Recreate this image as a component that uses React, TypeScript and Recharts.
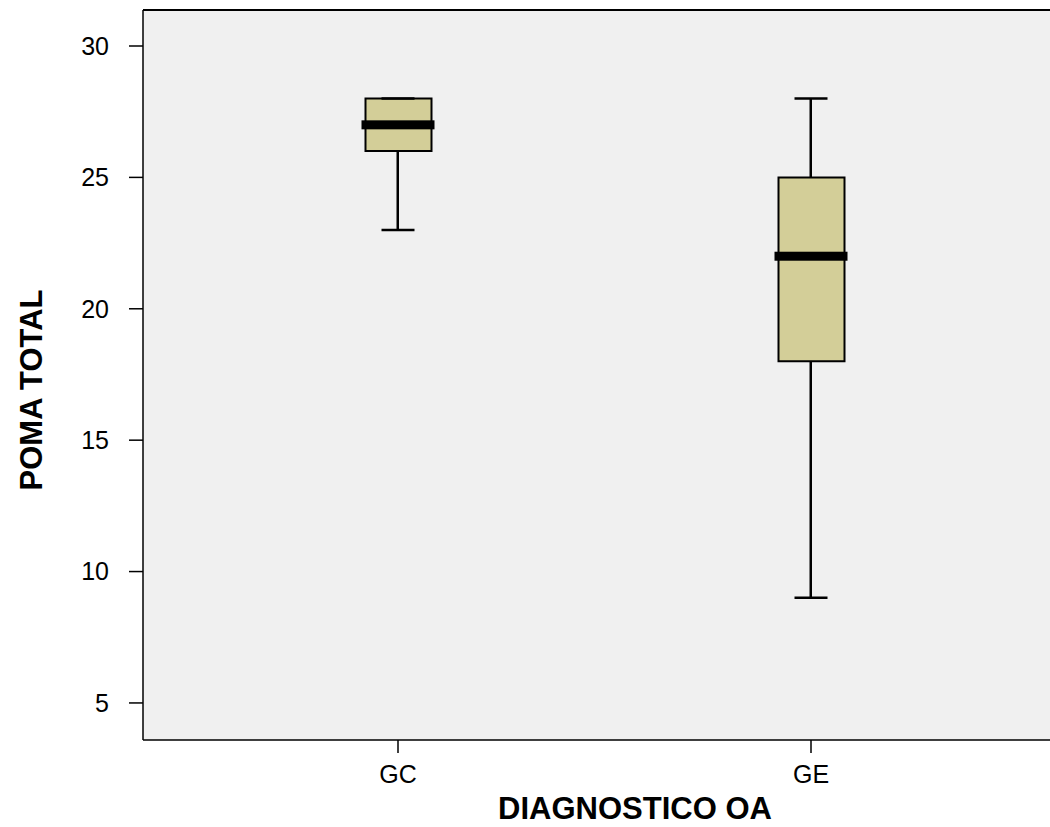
import {
  ComposedChart,
  Bar,
  Scatter,
  XAxis,
  YAxis,
  CartesianGrid,
  ReferenceLine,
  Label,
} from 'recharts';

// boxplot stats
const categories = ['GC', 'GE'];
const mins = [23, 9];
const q1s = [26, 18];
const medians = [27, 22];
const q3s = [28, 25];
const maxs = [28, 28];

const yTicks = [5, 10, 15, 20, 25, 30];
const yDomain = [3.59, 31.37];

const data = categories.map((name, i) => ({
  name,
  whisker: [mins[i], maxs[i]],
  box: [q1s[i], q3s[i]],
  median: medians[i],
  min: mins[i],
  max: maxs[i],
}));

const font = '"Liberation Sans", Arial, sans-serif';
const boxFill = '#d3ce98';
const plotBg = '#f0f0f0';
const xPad = { left: 48.5, right: 32.5 };

const MedianShape = (props: any) => {
  const { cx, cy } = props;
  if (cx == null || cy == null) return null;
  return <rect x={cx - 36.5} y={cy - 4.5} width={73} height={9} fill="#000" />;
};

const CapShape = (props: any) => {
  const { cx, cy } = props;
  if (cx == null || cy == null) return null;
  return <line x1={cx - 16.5} x2={cx + 16.5} y1={cy} y2={cy} stroke="#000" strokeWidth={2.5} />;
};

export default function App() {
  return (
    <div style={{ position: 'absolute', left: 0, top: 0, fontFamily: font }}>
      <ComposedChart
        width={1050}
        height={827}
        data={data}
        margin={{ top: 10, right: 0, bottom: 0, left: 0 }}
      >
        <CartesianGrid fill={plotBg} horizontal={false} vertical={false} />
        <XAxis
          dataKey="name"
          xAxisId="main"
          padding={xPad}
          height={87}
          tickSize={13}
          tickMargin={12}
          axisLine={{ stroke: '#000', strokeWidth: 1.5 }}
          tickLine={{ stroke: '#000', strokeWidth: 1.5 }}
          tick={{ fill: '#000', fontSize: 25, fontFamily: font }}
        >
          <Label
            value="DIAGNOSTICO OA"
            position="center"
            dx={38.5}
            dy={24.5}
            style={{ fontSize: 31, fontWeight: 'bold', fill: '#000', fontFamily: font }}
          />
        </XAxis>
        <XAxis dataKey="name" xAxisId="whisker" orientation="top" height={0} padding={xPad} hide />
        <XAxis dataKey="name" xAxisId="box" orientation="top" height={0} padding={xPad} hide />
        <YAxis
          type="number"
          domain={yDomain}
          allowDataOverflow
          ticks={yTicks}
          width={143}
          tickSize={14}
          tickMargin={20}
          axisLine={{ stroke: '#000', strokeWidth: 1.5 }}
          tickLine={{ stroke: '#000', strokeWidth: 1.5 }}
          tick={{ fill: '#000', fontSize: 25, fontFamily: font }}
        >
          <Label
            value="POMA TOTAL"
            angle={-90}
            position="center"
            dx={-41}
            dy={15}
            style={{ fontSize: 31, fontWeight: 'bold', fill: '#000', fontFamily: font, textAnchor: 'middle' }}
          />
        </YAxis>
        <ReferenceLine xAxisId="main" y={yDomain[1]} stroke="#000" strokeWidth={2} ifOverflow="visible" />
        <Bar
          xAxisId="whisker"
          dataKey="whisker"
          barSize={2.5}
          fill="#000"
          isAnimationActive={false}
        />
        <Bar
          xAxisId="box"
          dataKey="box"
          barSize={66}
          fill={boxFill}
          stroke="#000"
          strokeWidth={2}
          isAnimationActive={false}
        />
        <Scatter xAxisId="main" dataKey="min" shape={<CapShape />} isAnimationActive={false} />
        <Scatter xAxisId="main" dataKey="max" shape={<CapShape />} isAnimationActive={false} />
        <Scatter xAxisId="main" dataKey="median" shape={<MedianShape />} isAnimationActive={false} />
      </ComposedChart>
    </div>
  );
}
